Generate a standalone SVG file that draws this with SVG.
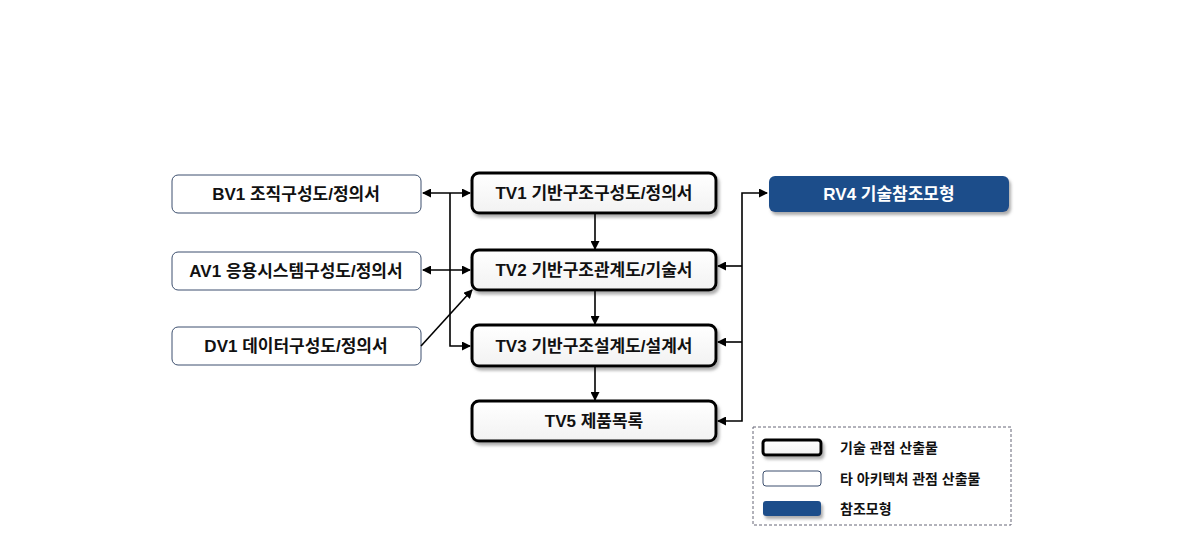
<svg xmlns="http://www.w3.org/2000/svg" width="1190" height="551" viewBox="0 0 1190 551">
<style>
text{font-family:"Liberation Sans","Noto Sans CJK KR",sans-serif;font-size:17px;font-weight:bold;fill:#111;text-anchor:middle;dominant-baseline:central}
.ext{fill:#fff;stroke:#3c4f6e;stroke-width:1}
.tech{fill:url(#g);stroke:#000;stroke-width:3;filter:url(#sh)}
.ref{fill:#1f4e8a;stroke:none;filter:url(#sh)}
.wt{fill:#fff}
.lg{font-size:14px;text-anchor:start}
.c{fill:none;stroke:#000;stroke-width:1.6}
</style>
<defs>
<linearGradient id="g" x1="0" y1="0" x2="0" y2="1"><stop offset="0" stop-color="#ffffff"/><stop offset="1" stop-color="#f2f2f2"/></linearGradient>
<filter id="sh" x="-10%" y="-30%" width="125%" height="180%"><feDropShadow dx="2" dy="3" stdDeviation="1.5" flood-color="#777" flood-opacity="0.6"/></filter>
<marker id="a" markerWidth="9" markerHeight="9" refX="8" refY="4.5" orient="auto-start-reverse" markerUnits="userSpaceOnUse"><path d="M0,0 L9,4.5 L0,9 z" fill="#000"/></marker>
</defs>
<g id="BV1"><rect class="ext" x="172" y="175" width="249" height="38" rx="6"/><text x="296" y="194">BV1 조직구성도/정의서</text></g>
<g id="AV1"><rect class="ext" x="172" y="252" width="249" height="38" rx="6"/><text x="296" y="271">AV1 응용시스템구성도/정의서</text></g>
<g id="DV1"><rect class="ext" x="172" y="327" width="249" height="38" rx="6"/><text x="296" y="346">DV1 데이터구성도/정의서</text></g>
<g id="TV1"><rect class="tech" x="472" y="173" width="244" height="40" rx="7"/><text x="594" y="193">TV1 기반구조구성도/정의서</text></g>
<g id="TV2"><rect class="tech" x="472" y="250" width="244" height="40" rx="7"/><text x="594" y="270">TV2 기반구조관계도/기술서</text></g>
<g id="TV3"><rect class="tech" x="472" y="325" width="244" height="41" rx="7"/><text x="594" y="346">TV3 기반구조설계도/설계서</text></g>
<g id="TV5"><rect class="tech" x="472" y="401" width="244" height="40" rx="7"/><text x="594" y="421">TV5 제품목록</text></g>
<g id="RV4"><rect class="ref" x="769" y="176" width="240" height="36" rx="6"/><text class="wt" x="889" y="194">RV4 기술참조모형</text></g>
<g id="connectors">
<path class="c" d="M423,193 L470,193" marker-start="url(#a)" marker-end="url(#a)"/>
<path class="c" d="M423,270 L470,270" marker-start="url(#a)" marker-end="url(#a)"/>
<path class="c" d="M450,193 L450,346 L470,346" marker-end="url(#a)"/>
<path class="c" d="M421,346 L472,290" marker-end="url(#a)"/>
<path class="c" d="M595,213 L595,249" marker-end="url(#a)"/>
<path class="c" d="M595,290 L595,324" marker-end="url(#a)"/>
<path class="c" d="M595,366 L595,400" marker-end="url(#a)"/>
<path class="c" d="M718,421 L742,421 L742,193 L767,193" marker-start="url(#a)" marker-end="url(#a)"/>
<path class="c" d="M742,266 L718,266" marker-end="url(#a)"/>
<path class="c" d="M742,342 L718,342" marker-end="url(#a)"/>
</g>
<g id="legend">
<rect x="753" y="427" width="258" height="98" fill="#fff" stroke="#667" stroke-width="1" stroke-dasharray="3,2"/>
<rect class="tech" x="763" y="440" width="58" height="15" rx="3"/>
<rect class="ext" x="763" y="471" width="58" height="15" rx="3"/>
<rect class="ref" x="763" y="501" width="58" height="15" rx="3"/>
<text class="lg" x="840" y="448">기술 관점 산출물</text>
<text class="lg" x="840" y="479">타 아키텍처 관점 산출물</text>
<text class="lg" x="840" y="509">참조모형</text>
</g>
</svg>
